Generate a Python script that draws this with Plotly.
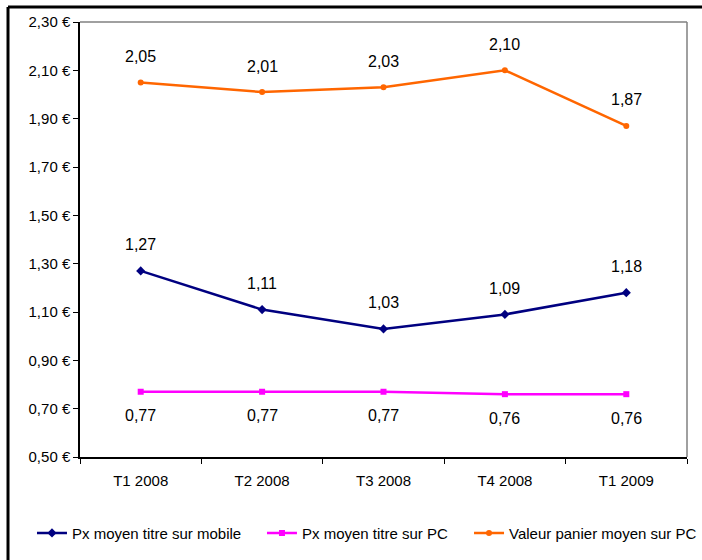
import plotly.graph_objects as go

categories = ["T1 2008", "T2 2008", "T3 2008", "T4 2008", "T1 2009"]
px_mobile = [1.27, 1.11, 1.03, 1.09, 1.18]
px_pc = [0.77, 0.77, 0.77, 0.76, 0.76]
panier_pc = [2.05, 2.01, 2.03, 2.10, 1.87]
series_names = ["Px moyen titre sur mobile", "Px moyen titre sur PC", "Valeur panier moyen sur PC"]
y_ticks = [0.50, 0.70, 0.90, 1.10, 1.30, 1.50, 1.70, 1.90, 2.10, 2.30]
y_ticktext = [f"{v:.2f} €".replace(".", ",") for v in y_ticks]

FONT = "Liberation Sans, Arial, sans-serif"

def fmt(v):
    return f"{v:.2f}".replace(".", ",")

fig = go.Figure()
fig.add_trace(go.Scatter(x=categories, y=px_mobile, name=series_names[0], mode="lines+markers",
                         line=dict(color="#000080", width=2.5),
                         marker=dict(symbol="diamond", size=7, color="#000080"),
                         legend="legend"))
fig.add_trace(go.Scatter(x=categories, y=px_pc, name=series_names[1], mode="lines+markers",
                         line=dict(color="#FF00FF", width=2.5),
                         marker=dict(symbol="square", size=6, color="#FF00FF"),
                         legend="legend2"))
fig.add_trace(go.Scatter(x=categories, y=panier_pc, name=series_names[2], mode="lines+markers",
                         line=dict(color="#FF6600", width=2.5),
                         marker=dict(symbol="circle", size=6, color="#FF6600"),
                         legend="legend3"))

annotations = []
for c, v in zip(categories, px_mobile):
    annotations.append(dict(x=c, y=v, text=fmt(v), showarrow=False, yshift=26,
                            font=dict(size=16, color="black", family=FONT)))
for c, v in zip(categories, panier_pc):
    annotations.append(dict(x=c, y=v, text=fmt(v), showarrow=False, yshift=26,
                            font=dict(size=16, color="black", family=FONT)))
for c, v in zip(categories, px_pc):
    annotations.append(dict(x=c, y=v, text=fmt(v), showarrow=False, yshift=-24,
                            font=dict(size=16, color="black", family=FONT)))

shapes = [
    dict(type="line", xref="paper", yref="paper", x0=0, x1=1, y0=1, y1=1,
         line=dict(color="#808080", width=1.5)),
    dict(type="line", xref="paper", yref="paper", x0=1, x1=1, y0=0, y1=1,
         line=dict(color="#808080", width=1.5)),
    dict(type="line", xref="paper", yref="paper", x0=-0.1186, x1=1.05, y0=1.0345, y1=1.0345,
         line=dict(color="black", width=3)),
    dict(type="line", xref="paper", yref="paper", x0=-0.1186, x1=-0.1186, y0=-0.3, y1=1.0345,
         line=dict(color="black", width=3)),
]

leg_common = dict(orientation="h", xanchor="left", y=-0.175, yanchor="middle",
                  font=dict(size=15, family=FONT), itemwidth=30, bgcolor="rgba(0,0,0,0)")

fig.update_layout(
    width=702, height=560,
    margin=dict(l=80, r=15, t=22, b=103, autoexpand=False),
    paper_bgcolor="white", plot_bgcolor="white",
    font=dict(family=FONT, size=15, color="black"),
    showlegend=True,
    legend=dict(x=-0.0791, **leg_common),
    legend2=dict(x=0.2998, **leg_common),
    legend3=dict(x=0.6409, **leg_common),
    annotations=annotations,
    shapes=shapes,
)
fig.update_xaxes(type="category", range=[-0.5, 4.5], showline=True, linecolor="black", linewidth=1.5,
                 ticks="outside", ticklen=5, tickcolor="black", tickson="boundaries",
                 showgrid=False, zeroline=False, ticklabelstandoff=9,
                 tickfont=dict(size=15, family=FONT))
fig.update_yaxes(range=[0.5, 2.3], tickvals=y_ticks, ticktext=y_ticktext,
                 showline=True, linecolor="black", linewidth=1.5,
                 ticks="outside", ticklen=5, tickcolor="black",
                 showgrid=False, zeroline=False,
                 tickfont=dict(size=15, family=FONT))

fig.write_html("out.html", config={"displayModeBar": False},
               post_script="document.body.style.margin='0';")
